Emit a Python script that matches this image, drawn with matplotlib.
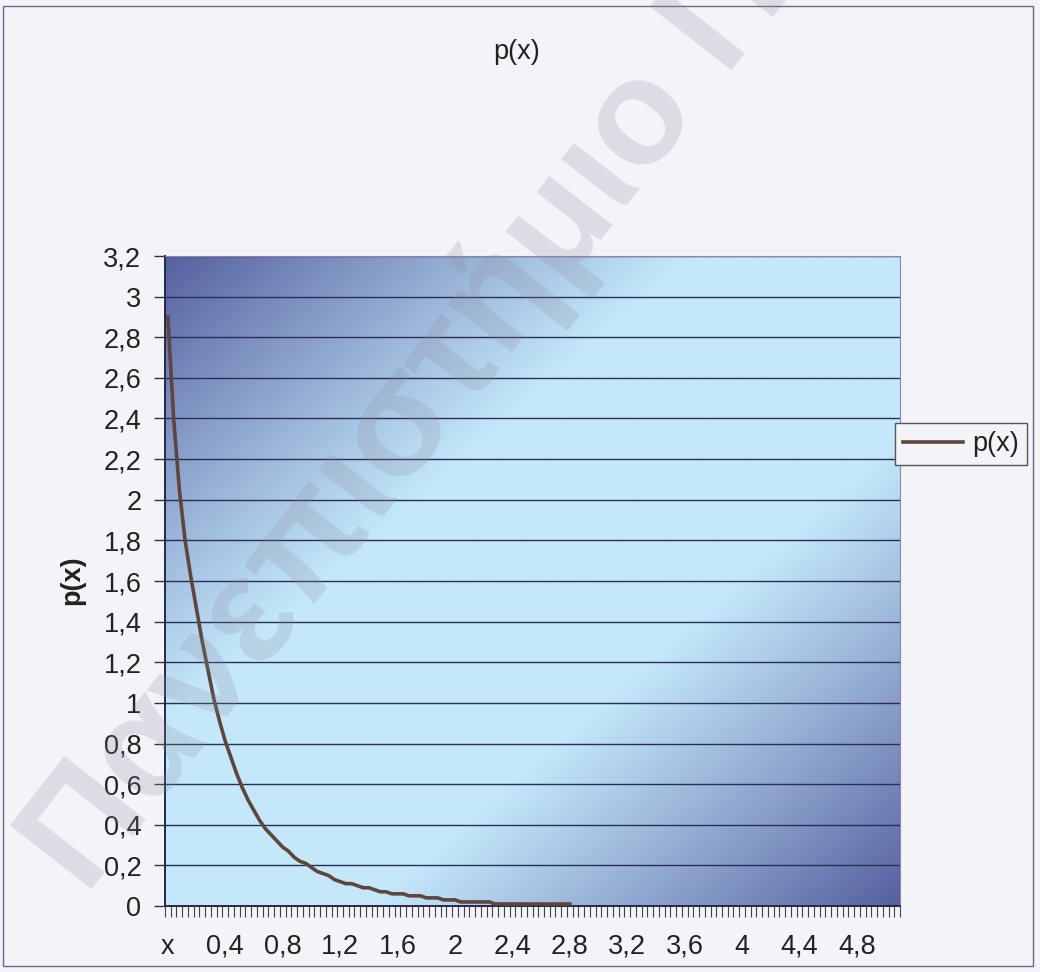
import matplotlib.pyplot as plt
import numpy as np
from matplotlib.patches import Rectangle

# eje x: categorias cada 0,04 (la primera se rotula "x")
x_step = 0.04
n_cat = 128
x_cat = np.arange(n_cat) * x_step

# valores de p(x), uno por categoria (despues de 2,8 quedan en 0)
p_vals = [2.90, 2.40, 2.05, 1.80, 1.62, 1.46, 1.30, 1.16, 1.02, 0.91,
          0.81, 0.73, 0.65, 0.58, 0.52, 0.47, 0.42, 0.38, 0.35, 0.32,
          0.29, 0.27, 0.24, 0.22, 0.21, 0.19, 0.17, 0.16, 0.15, 0.13,
          0.12, 0.11, 0.11, 0.10, 0.09, 0.09, 0.08, 0.07, 0.07, 0.06,
          0.06, 0.06, 0.05, 0.05, 0.05, 0.04, 0.04, 0.04, 0.03, 0.03,
          0.03, 0.02, 0.02, 0.02, 0.02, 0.02, 0.02, 0.01, 0.01, 0.01,
          0.01, 0.01, 0.01, 0.01, 0.01, 0.01, 0.01, 0.01, 0.01, 0.01,
          0.01]

x_tick_vals = [0, 0.4, 0.8, 1.2, 1.6, 2.0, 2.4, 2.8, 3.2, 3.6, 4.0, 4.4, 4.8]
x_tick_labels = ["x", "0,4", "0,8", "1,2", "1,6", "2", "2,4", "2,8",
                 "3,2", "3,6", "4", "4,4", "4,8"]
y_tick_vals = [0, 0.2, 0.4, 0.6, 0.8, 1.0, 1.2, 1.4, 1.6, 1.8, 2.0,
               2.2, 2.4, 2.6, 2.8, 3.0, 3.2]
y_tick_labels = ["0", "0,2", "0,4", "0,6", "0,8", "1", "1,2", "1,4", "1,6",
                 "1,8", "2", "2,2", "2,4", "2,6", "2,8", "3", "3,2"]

plt.rcParams['font.family'] = ['Liberation Sans', 'DejaVu Sans']
fs = 19.5
W, H = 1040, 972
bg = '#f3f4f8'

fig = plt.figure(figsize=(W / 100, H / 100), dpi=100, facecolor=bg)
L, R, T, B = 165, 900, 256, 906
ax = fig.add_axes([L / W, 1 - B / H, (R - L) / W, (B - T) / H])

xmin = -x_step / 2
xmax = x_cat[-1] + x_step / 2

# fondo degradado del area de trazado
gx, gy = np.meshgrid(np.linspace(0, 1, 300), np.linspace(0, 1, 300))
d = np.abs(gx + (1 - gy) - 1)
w = np.clip((d - 0.28) / 0.72, 0, 1) ** 1.05
dark = np.array([86, 96, 160]) / 255
light = np.array([196, 232, 250]) / 255
img = light + (dark - light) * w[..., None]
ax.imshow(img, extent=[xmin, xmax, 0, 3.2], origin='lower', aspect='auto', zorder=0)

for yv in y_tick_vals[1:]:
    ax.axhline(yv, color='#2a2d58', lw=1.0, zorder=1)

ax.plot(x_cat[:len(p_vals)], p_vals, color='#5e463c', lw=2.6, zorder=3, label='p(x)')

ax.set_xlim(xmin, xmax)
ax.set_ylim(0, 3.2)
ax.set_xticks(x_tick_vals)
ax.set_xticklabels(x_tick_labels, fontsize=fs, color='#222')
ax.set_xticks(np.arange(n_cat + 1) * x_step - x_step / 2, minor=True)
ax.tick_params(axis='x', which='major', length=0, pad=20)
ax.tick_params(axis='x', which='minor', length=8, width=0.8, color='#444')
ax.set_yticks(y_tick_vals)
ax.set_yticklabels(y_tick_labels, fontsize=fs, color='#222')
ax.tick_params(axis='y', length=8, width=1.0, color='#333', pad=9)

ax.spines['left'].set_color('#25284a')
ax.spines['left'].set_linewidth(1.4)
ax.spines['bottom'].set_color('#25284a')
ax.spines['bottom'].set_linewidth(1.4)
for s in ['top', 'right']:
    ax.spines[s].set_color('#8a86b0')
    ax.spines[s].set_linewidth(0.8)

fig.text(517 / W, 1 - 52 / H, 'p(x)', fontsize=fs, ha='center', va='center', color='#222')
fig.text(72 / W, 1 - 580 / H, 'p(x)', fontsize=fs, fontweight='bold', rotation=90,
         ha='center', va='center', color='#222')

leg = ax.legend(loc='upper left', bbox_to_anchor=(895 / W, 1 - 423 / H),
                bbox_transform=fig.transFigure, fontsize=fs, frameon=True,
                fancybox=False, edgecolor='#555', facecolor=bg, framealpha=1,
                handlelength=2.2, handletextpad=0.35, borderpad=0.3, borderaxespad=0)
leg.get_frame().set_linewidth(1.0)
leg.get_texts()[0].set_color('#222')

fig.patches.append(Rectangle((3 / W, 6 / H), 1030 / W, 960 / H, transform=fig.transFigure,
                             fill=False, edgecolor='#6a6a88', lw=1.0))

# marca de agua (cortada por el borde, como en el original)
fig.text(55 / W, 1 - 872 / H, 'Πανεπιστήμιο Πε', fontsize=108, rotation=52,
         rotation_mode='anchor', ha='left', va='center', color='#8c8c9c', alpha=0.22,
         fontweight='bold', zorder=10)

fig.savefig('out.png', dpi=100, facecolor=bg)
